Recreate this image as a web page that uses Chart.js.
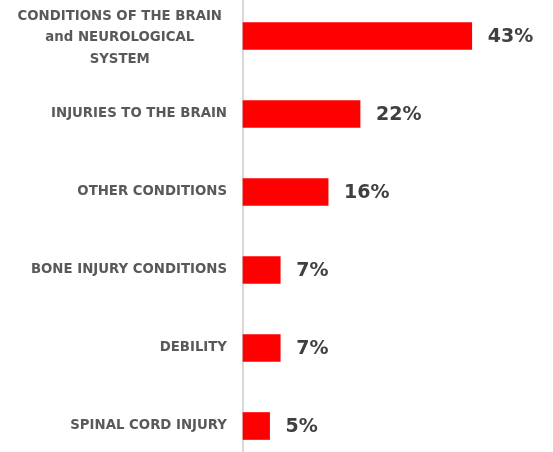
<!DOCTYPE html>
<html>
<head>
<meta charset="utf-8">
<script src="https://cdn.jsdelivr.net/npm/chart.js@4/dist/chart.umd.min.js"></script>
<style>
  html, body { margin: 0; padding: 0; background: #ffffff; overflow: hidden; width: 553px; height: 452px; }
  #wrap { position: absolute; left: 0; top: -3px; width: 553px; height: 468px; }
</style>
</head>
<body>
<div id="wrap"><canvas id="c" width="553" height="468"></canvas></div>
<script>
const categories = [
  ["CONDITIONS OF THE BRAIN", "and NEUROLOGICAL", "SYSTEM"],
  "INJURIES TO THE BRAIN",
  "OTHER CONDITIONS",
  "BONE INJURY CONDITIONS",
  "DEBILITY",
  "SPINAL CORD INJURY"
];
const values = [43, 22, 16, 7, 7, 5];
const valueLabels = ["43%", "22%", "16%", "7%", "7%", "5%"];

const labelFont = "bold 13.3px 'DejaVu Sans'";
const valueFont = "bold 19px 'DejaVu Sans'";

const labelsPlugin = {
  id: 'customLabels',
  afterDraw(chart) {
    const ctx = chart.ctx;
    const yScale = chart.scales.y;
    const meta = chart.getDatasetMeta(0);
    ctx.save();
    // category labels
    ctx.font = labelFont;
    ctx.fillStyle = '#595959';
    ctx.textBaseline = 'middle';
    const rightEdge = chart.chartArea.left - 16;
    categories.forEach((lab, i) => {
      const yc = yScale.getPixelForValue(i);
      const lines = Array.isArray(lab) ? lab : [lab];
      const lh = 21.5;
      if (lines.length === 1) {
        ctx.textAlign = 'right';
        ctx.fillText(lines[0], rightEdge, yc);
      } else {
        let maxW = 0;
        lines.forEach(l => { maxW = Math.max(maxW, ctx.measureText(l).width); });
        const cx = rightEdge - 5 - maxW / 2;
        ctx.textAlign = 'center';
        const y0 = yc + 2 - (lines.length - 1) * lh / 2;
        lines.forEach((l, k) => ctx.fillText(l, cx, y0 + k * lh));
      }
    });
    // value labels
    ctx.font = valueFont;
    ctx.fillStyle = '#404040';
    ctx.textAlign = 'left';
    meta.data.forEach((bar, i) => {
      ctx.fillText(valueLabels[i], bar.x + 16, bar.y + 1);
    });
    ctx.restore();
  }
};

new Chart(document.getElementById('c'), {
  type: 'bar',
  data: {
    labels: categories,
    datasets: [{
      data: values,
      backgroundColor: '#ff0000',
      borderWidth: 0,
      barThickness: 27,
      clip: false
    }]
  },
  options: {
    indexAxis: 'y',
    responsive: false,
    animation: false,
    layout: { padding: { left: 0, right: 44, top: 0, bottom: 0 } },
    plugins: { legend: { display: false }, tooltip: { enabled: false } },
    scales: {
      x: { display: false, min: 0, max: 50 },
      y: {
        offset: true,
        grid: { display: false },
        border: { display: true, color: '#d9d9d9', width: 2 },
        ticks: { display: false },
        afterFit(scale) { scale.width = 243; }
      }
    }
  },
  plugins: [labelsPlugin]
});
</script>
</body>
</html>
